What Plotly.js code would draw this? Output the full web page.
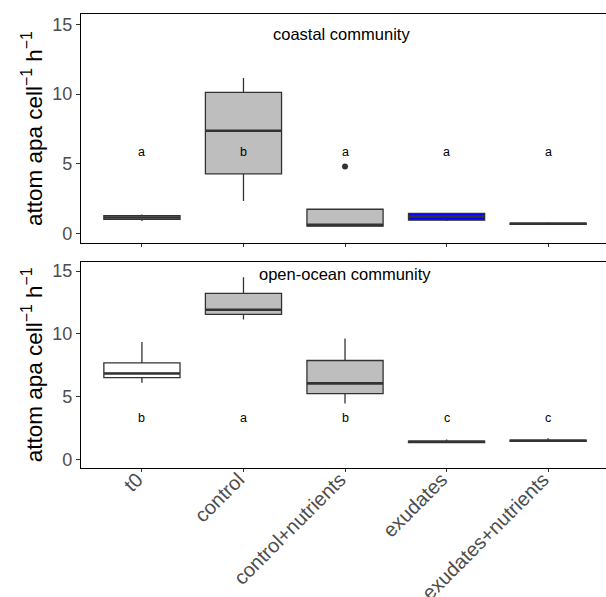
<!DOCTYPE html>
<html>
<head>
<meta charset="utf-8">
<script src="https://cdn.plot.ly/plotly-3.0.1.min.js"></script>
<style>html,body{margin:0;padding:0;background:#fff;}#chart{width:606px;height:597px;}</style>
</head>
<body>
<div id="chart"></div>
<script>
const categories = ['t0', 'control', 'control+nutrients', 'exudates', 'exudates+nutrients'];

// coastal community (top panel)
const coastalLow  = [0.90, 2.34, 0.49, 0.90, 0.62];
const coastalQ1   = [1.02, 4.28, 0.53, 0.96, 0.66];
const coastalMed  = [1.15, 7.37, 0.62, 1.22, 0.70];
const coastalQ3   = [1.28, 10.12, 1.74, 1.45, 0.74];
const coastalHigh = [1.36, 11.16, 1.74, 1.48, 0.80];
const coastalOutlierCat = [2];
const coastalOutlierVal = [4.8];
const coastalLetters = ['a', 'b', 'a', 'a', 'a'];
const coastalLetterY = 5.85;

// open-ocean community (bottom panel)
const oceanLow  = [6.10, 11.15, 4.44, 1.30, 1.40];
const oceanQ1   = [6.50, 11.55, 5.23, 1.33, 1.42];
const oceanMed  = [6.84, 11.92, 6.05, 1.39, 1.47];
const oceanQ3   = [7.68, 13.23, 7.87, 1.45, 1.52];
const oceanHigh = [9.34, 14.52, 9.63, 1.58, 1.68];
const oceanLetters = ['b', 'a', 'b', 'c', 'c'];
const oceanLetterY = 3.3;

const coastalFill = ['#FFFFFF', '#BEBEBE', '#BEBEBE', '#0000FF', '#BEBEBE'];
const oceanFill   = ['#FFFFFF', '#BEBEBE', '#BEBEBE', '#BEBEBE', '#BEBEBE'];

const BOXW = 0.75;
const idx = categories.map((c, i) => i);
const traces = [];
const shapes = [];
const annotations = [];

function addPanel(low, q1, med, q3, high, fills, xa, ya) {
  idx.forEach(i => {
    traces.push({
      type: 'box', x: [i], q1: [q1[i]], median: [med[i]], q3: [q3[i]],
      lowerfence: [low[i]], upperfence: [high[i]],
      width: BOXW, whiskerwidth: 0, fillcolor: fills[i],
      line: {color: '#333333', width: 1.3},
      xaxis: xa, yaxis: ya, showlegend: false, hoverinfo: 'skip', boxpoints: false
    });
    shapes.push({
      type: 'line', xref: xa, yref: ya,
      x0: i - BOXW / 2, x1: i + BOXW / 2, y0: med[i], y1: med[i],
      line: {color: '#333333', width: 2.6}
    });
  });
}
addPanel(coastalLow, coastalQ1, coastalMed, coastalQ3, coastalHigh, coastalFill, 'x', 'y');
addPanel(oceanLow, oceanQ1, oceanMed, oceanQ3, oceanHigh, oceanFill, 'x2', 'y2');

traces.push({
  type: 'scatter', mode: 'markers', x: coastalOutlierCat, y: coastalOutlierVal,
  marker: {color: '#333333', size: 6}, xaxis: 'x', yaxis: 'y', showlegend: false, hoverinfo: 'skip'
});

const FAM = 'Liberation Sans, Arial, sans-serif';
idx.forEach(i => {
  annotations.push({xref: 'x', yref: 'y', x: i, y: coastalLetterY, text: coastalLetters[i],
    showarrow: false, font: {family: FAM, size: 12.5, color: '#000'}});
  annotations.push({xref: 'x2', yref: 'y2', x: i, y: oceanLetterY, text: oceanLetters[i],
    showarrow: false, font: {family: FAM, size: 12.5, color: '#000'}});
});
annotations.push({xref: 'x', yref: 'y', x: 1.97, y: 14.3, text: 'coastal community', showarrow: false,
  font: {family: FAM, size: 16.5, color: '#000'}});
annotations.push({xref: 'x2', yref: 'y2', x: 2.0, y: 14.8, text: 'open-ocean community', showarrow: false,
  font: {family: FAM, size: 16.5, color: '#000'}});

const yTitle = 'attom apa cell<sup>−1</sup> h<sup>−1</sup>';
const tickFont = {family: FAM, size: 18, color: '#4D4D4D'};
const xBase = {
  range: [-0.6, 4.57], tickvals: idx, ticktext: categories, showgrid: false, zeroline: false,
  showline: true, mirror: true, linecolor: '#000', linewidth: 1.1,
  ticks: 'outside', ticklen: 3, tickcolor: '#333', tickwidth: 1,
  tickfont: {family: FAM, size: 20, color: '#4D4D4D'}
};
const yBase = {
  range: [-0.7, 15.75], tickvals: [0, 5, 10, 15], showgrid: false, zeroline: false,
  showline: true, linecolor: '#000', linewidth: 1.1,
  ticks: 'outside', ticklen: 4, tickcolor: '#333', tickwidth: 1, tickfont: tickFont,
  title: {text: yTitle, font: {family: FAM, size: 22.5, color: '#000'}, standoff: 3}
};

const layout = {
  width: 606, height: 597,
  margin: {l: 81, r: 0, t: 14, b: 129},
  paper_bgcolor: '#fff', plot_bgcolor: '#fff',
  showlegend: false,
  xaxis: Object.assign({}, xBase, {domain: [0, 1], anchor: 'y', showticklabels: false}),
  yaxis: Object.assign({}, yBase, {domain: [0.495, 1], anchor: 'x'}),
  xaxis2: Object.assign({}, xBase, {domain: [0, 1], anchor: 'y2', tickangle: -45,
    ticklabelstandoff: -12, ticklabelshift: -5}),
  yaxis2: Object.assign({}, yBase, {domain: [0, 0.4544], anchor: 'x2'}),
  shapes: shapes,
  annotations: annotations
};

Plotly.newPlot('chart', traces, layout, {displayModeBar: false, staticPlot: true});
</script>
</body>
</html>
